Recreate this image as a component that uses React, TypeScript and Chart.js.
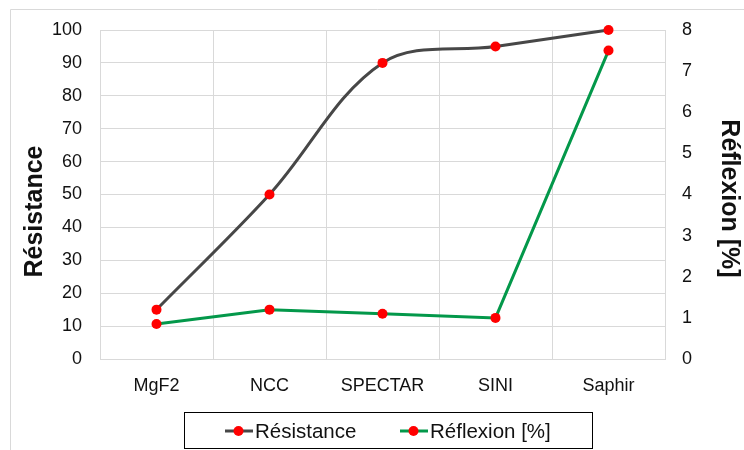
import { useEffect, useRef } from 'react';
import { Chart, registerables } from 'chart.js';

Chart.register(...registerables);

const categories = ['MgF2', 'NCC', 'SPECTAR', 'SINI', 'Saphir'];
const resistanceValues = [15, 50, 90, 95, 100];
const reflexionValues = [0.85, 1.2, 1.1, 1.0, 7.5];
const seriesNames = ['Résistance', 'Réflexion [%]'];
const leftAxisTitle = 'Résistance';
const rightAxisTitle = 'Réflexion [%]';

const FONT = "'Liberation Sans', Arial, sans-serif";
const GRID = '#d9d9d9';
const TEXT = '#111111';
const GRAY_LINE = '#474747';
const GREEN_LINE = '#03984a';
const RED = '#ff0000';

const decorPlugin = {
  id: 'decor',
  afterDraw(chart: any) {
    const ctx = chart.ctx as CanvasRenderingContext2D;
    const area = chart.chartArea;
    ctx.save();
    // outer chart border
    ctx.strokeStyle = GRID;
    ctx.lineWidth = 1;
    ctx.beginPath();
    ctx.moveTo(10.5, 460);
    ctx.lineTo(10.5, 9.5);
    ctx.lineTo(760, 9.5);
    ctx.stroke();

    // axis titles
    ctx.fillStyle = TEXT;
    ctx.font = `bold 25px ${FONT}`;
    ctx.textAlign = 'center';
    ctx.textBaseline = 'middle';
    const midY = (area.top + area.bottom) / 2;
    ctx.save();
    ctx.translate(35, midY + 17);
    ctx.rotate(-Math.PI / 2);
    ctx.fillText(leftAxisTitle, 0, 0);
    ctx.restore();
    ctx.save();
    ctx.translate(729, midY + 4);
    ctx.rotate(Math.PI / 2);
    ctx.fillText(rightAxisTitle, 0, 0);
    ctx.restore();

    // legend box
    const boxL = 184.5, boxT = 412.5, boxR = 592.5, boxB = 448.5;
    ctx.strokeStyle = '#000000';
    ctx.lineWidth = 1;
    ctx.strokeRect(boxL, boxT, boxR - boxL, boxB - boxT);

    const cy = 431;
    const items = [
      { x: 225, color: chart.data.datasets[0].borderColor, label: seriesNames[0] },
      { x: 400, color: chart.data.datasets[1].borderColor, label: seriesNames[1] },
    ];
    ctx.font = `20.5px ${FONT}`;
    ctx.textBaseline = 'middle';
    ctx.textAlign = 'left';
    for (const it of items) {
      ctx.strokeStyle = it.color;
      ctx.lineWidth = 3;
      ctx.beginPath();
      ctx.moveTo(it.x, cy);
      ctx.lineTo(it.x + 28, cy);
      ctx.stroke();
      ctx.fillStyle = RED;
      ctx.beginPath();
      ctx.arc(it.x + 13.5, cy, 5, 0, Math.PI * 2);
      ctx.fill();
      ctx.fillStyle = TEXT;
      ctx.fillText(it.label, it.x + 30, cy + 1);
    }
    ctx.restore();
  },
};

export default function App() {
  const canvasRef = useRef<HTMLCanvasElement | null>(null);

  useEffect(() => {
    if (!canvasRef.current) return;
    const chart = new Chart(canvasRef.current, {
      type: 'line',
      data: {
        labels: categories,
        datasets: [
          {
            label: seriesNames[0],
            data: resistanceValues,
            yAxisID: 'y',
            borderColor: GRAY_LINE,
            borderWidth: 3,
            tension: 0.35,
            pointBackgroundColor: RED,
            pointBorderColor: RED,
            pointRadius: 5,
            pointBorderWidth: 0,
            fill: false,
            clip: false,
          },
          {
            label: seriesNames[1],
            data: reflexionValues,
            yAxisID: 'y1',
            borderColor: GREEN_LINE,
            borderWidth: 3,
            tension: 0,
            pointBackgroundColor: RED,
            pointBorderColor: RED,
            pointRadius: 5,
            pointBorderWidth: 0,
            fill: false,
            clip: false,
          },
        ],
      },
      options: {
        animation: false,
        responsive: true,
        maintainAspectRatio: false,
        layout: { padding: { top: 30, bottom: 51, left: 0, right: 0 } },
        plugins: {
          legend: { display: false },
          tooltip: { enabled: false },
        },
        scales: {
          x: {
            type: 'category',
            offset: true,
            grid: { offset: true, color: GRID, lineWidth: 1, drawTicks: false },
            border: { display: true, color: GRID },
            ticks: {
              color: TEXT,
              font: { family: FONT, size: 18 },
              padding: 16,
              maxRotation: 0,
            },
            afterFit: (s: any) => { s.height = 40; },
          },
          y: {
            position: 'left',
            min: 0,
            max: 100,
            grid: { color: GRID, lineWidth: 1, drawTicks: false },
            border: { display: true, color: GRID },
            ticks: {
              stepSize: 10,
              color: TEXT,
              font: { family: FONT, size: 18 },
              padding: 18,
            },
            afterFit: (s: any) => { s.width = 100; },
          },
          y1: {
            position: 'right',
            min: 0,
            max: 8,
            grid: { drawOnChartArea: false, drawTicks: false },
            border: { display: true, color: GRID },
            ticks: {
              stepSize: 1,
              color: TEXT,
              font: { family: FONT, size: 18 },
              padding: 17,
            },
            afterFit: (s: any) => { s.width = 79; },
          },
        },
      },
      plugins: [decorPlugin],
    });
    return () => chart.destroy();
  }, []);

  return (
    <div style={{ position: 'absolute', left: 0, top: 0, width: 744, height: 450, background: '#ffffff' }}>
      <canvas ref={canvasRef} />
    </div>
  );
}
